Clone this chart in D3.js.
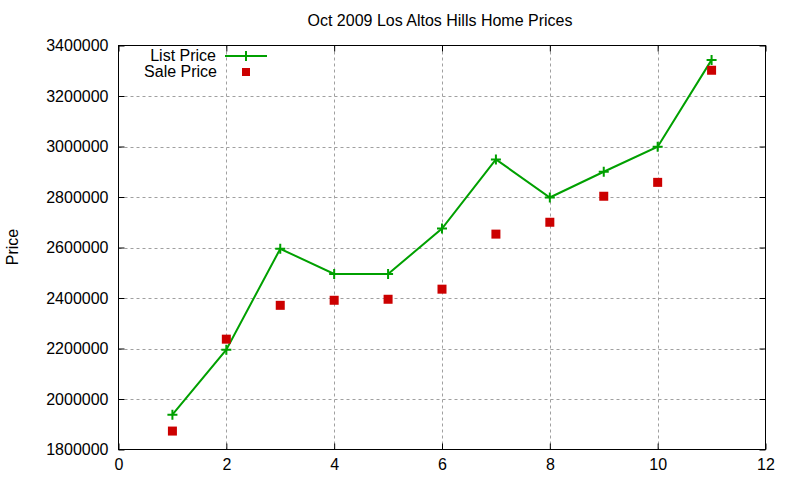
<!DOCTYPE html>
<html>
<head>
<meta charset="utf-8">
<script src="https://cdn.jsdelivr.net/npm/d3@7"></script>
<style>
body { margin: 0; background: #fff; }
text { font-family: "Liberation Sans", Arial, sans-serif; fill: #000; }
</style>
</head>
<body>
<svg id="chart"></svg>
<script>
const houses = [1, 2, 3, 4, 5, 6, 7, 8, 9, 10, 11];
const listPrice = [1938000, 2195000, 2595000, 2495000, 2495000, 2675000, 2949000, 2798000, 2900000, 2999000, 3343000];
const salePrice = [1873000, 2237000, 2371000, 2391000, 2395000, 2435000, 2653000, 2700000, 2803000, 2858000, 3302000];
const xTicks = [0, 2, 4, 6, 8, 10, 12];
const yTicks = [1800000, 2000000, 2200000, 2400000, 2600000, 2800000, 3000000, 3200000, 3400000];

const width = 800, height = 480;
const plotLeft = 118.5, plotRight = 765.5, plotTop = 45.5, plotBottom = 449.5;
const fontSize = "16px";

const svg = d3.select("#chart")
.attr("width", width)
.attr("height", height);

const x = d3.scaleLinear().domain([0, 12]).range([plotLeft, plotRight]);
const y = d3.scaleLinear().domain([1800000, 3400000]).range([plotBottom, plotTop]);

// grid
const grid = svg.append("g")
.attr("stroke", "#a0a0a0")
.attr("stroke-width", 1)
.attr("stroke-dasharray", "3,3");
grid.selectAll(".gx")
.data(xTicks.slice(1, -1))
.enter()
.append("line")
.attr("x1", d => Math.round(x(d)) + 0.5)
.attr("x2", d => Math.round(x(d)) + 0.5)
.attr("y1", plotTop)
.attr("y2", plotBottom);
grid.selectAll(".gy")
.data(yTicks.slice(1, -1))
.enter()
.append("line")
.attr("x1", plotLeft)
.attr("x2", plotRight)
.attr("y1", d => Math.round(y(d)) + 0.5)
.attr("y2", d => Math.round(y(d)) + 0.5);

// axes (ticks inward, mirrored)
const tickLen = 6;
svg.append("g")
.attr("transform", `translate(0,${plotBottom})`)
.call(d3.axisBottom(x).tickValues(xTicks).tickSizeInner(-tickLen).tickSizeOuter(0).tickPadding(9))
.call(g => g.select(".domain").remove());
svg.append("g")
.attr("transform", `translate(0,${plotTop})`)
.call(d3.axisTop(x).tickValues(xTicks).tickSizeInner(-tickLen).tickSizeOuter(0).tickFormat(""))
.call(g => g.select(".domain").remove());
svg.append("g")
.attr("transform", `translate(${plotLeft},0)`)
.call(d3.axisLeft(y).tickValues(yTicks).tickSizeInner(-tickLen).tickSizeOuter(0).tickPadding(10).tickFormat(d3.format("d")))
.call(g => g.select(".domain").remove());
svg.append("g")
.attr("transform", `translate(${plotRight},0)`)
.call(d3.axisRight(y).tickValues(yTicks).tickSizeInner(-tickLen).tickSizeOuter(0).tickFormat(""))
.call(g => g.select(".domain").remove());

svg.selectAll(".tick text")
.style("font-size", fontSize)
.style("font-family", "'Liberation Sans', Arial, sans-serif")
.attr("fill", "#000");
svg.selectAll(".tick line").attr("stroke", "#000");

svg.append("rect")
.attr("x", plotLeft)
.attr("y", plotTop)
.attr("width", plotRight - plotLeft)
.attr("height", plotBottom - plotTop)
.attr("fill", "none")
.attr("stroke", "#000")
.attr("stroke-width", 1);

// title and label
svg.append("text")
.attr("x", 440)
.attr("y", 26)
.attr("text-anchor", "middle")
.style("font-size", fontSize)
.text("Oct 2009 Los Altos Hills Home Prices");
svg.append("text")
.attr("transform", "translate(18,247) rotate(-90)")
.attr("text-anchor", "middle")
.style("font-size", fontSize)
.text("Price");

const green = "#00a000", red = "#cc0000";

// list price line
const line = d3.line()
.x((d, i) => x(houses[i]))
.y(d => y(d));
svg.append("path")
.datum(listPrice)
.attr("d", line)
.attr("fill", "none")
.attr("stroke", green)
.attr("stroke-width", 2);

function cross(g, cx, cy) {
    g.append("path")
        .attr("d", `M${cx - 5},${cy}H${cx + 5}M${cx},${cy - 5}V${cy + 5}`)
        .attr("stroke", green)
        .attr("stroke-width", 2);
}
const marks = svg.append("g");
listPrice.forEach((d, i) => cross(marks, x(houses[i]), y(d)));

// sale price squares
svg.selectAll(".sale")
.data(salePrice)
.enter()
.append("rect")
.attr("x", (d, i) => x(houses[i]) - 4.5)
.attr("y", d => y(d) - 4.5)
.attr("width", 9)
.attr("height", 9)
.attr("fill", red);

// legend
const legend = svg.append("g");
legend.append("text")
.attr("x", 216)
.attr("y", 61)
.attr("text-anchor", "end")
.style("font-size", fontSize)
.text("List Price");
legend.append("text")
.attr("x", 217)
.attr("y", 77)
.attr("text-anchor", "end")
.style("font-size", fontSize)
.text("Sale Price");
legend.append("line")
.attr("x1", 225)
.attr("x2", 267)
.attr("y1", 56)
.attr("y2", 56)
.attr("stroke", green)
.attr("stroke-width", 2);
cross(legend, 246, 56);
legend.append("rect")
.attr("x", 242)
.attr("y", 68)
.attr("width", 8)
.attr("height", 8)
.attr("fill", red);
</script>
</body>
</html>
